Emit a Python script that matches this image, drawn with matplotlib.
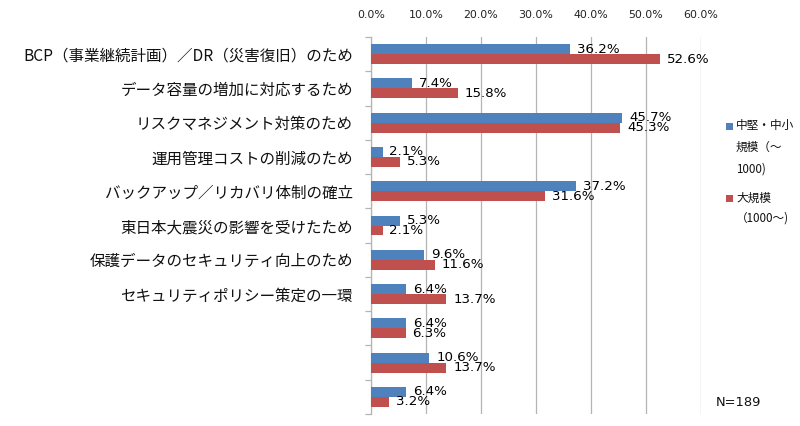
import matplotlib.pyplot as plt
from matplotlib.patches import Rectangle
import numpy as np

plt.rcParams['font.family'] = ['Noto Sans CJK JP', 'DejaVu Sans']

# ----- data -----
categories = [
    'BCP（事業継続計画）／DR（災害復旧）のため',
    'データ容量の増加に対応するため',
    'リスクマネジメント対策のため',
    '運用管理コストの削減のため',
    'バックアップ／リカバリ体制の確立',
    '東日本大震災の影響を受けたため',
    '保護データのセキュリティ向上のため',
    'セキュリティポリシー策定の一環',
    '',
    '',
    '',
]
mid_small = [36.2, 7.4, 45.7, 2.1, 37.2, 5.3, 9.6, 6.4, 6.4, 10.6, 6.4]
large = [52.6, 15.8, 45.3, 5.3, 31.6, 2.1, 11.6, 13.7, 6.3, 13.7, 3.2]
x_ticks = [0, 10, 20, 30, 40, 50, 60]
legend_lines = [
    ['中堅・中小', '規模（～', '1000)'],
    ['大規模', '（1000～)'],
]
note = 'N=189'

BLUE = '#4F81BD'
RED = '#C0504D'
GRID = '#B4B4B4'
W, H = 800, 426


def fx(px):
    return px / W


def fy(py):
    return 1 - py / H


fig = plt.figure(figsize=(8.0, 4.26), dpi=100, facecolor='white')
ax = fig.add_axes([fx(371), fy(414), fx(701) - fx(371), fy(37) - fy(414)])

n = len(categories)
y = np.arange(n)
bh = 0.29
b1 = ax.barh(y - bh / 2, mid_small, height=bh, color=BLUE, zorder=3)
b2 = ax.barh(y + bh / 2, large, height=bh, color=RED, zorder=3)

for bars, vals in ((b1, mid_small), (b2, large)):
    ax.bar_label(bars, labels=[f'{v:.1f}%' for v in vals], padding=5,
                 fontsize=9.6, family='DejaVu Sans', color='#000000')

ax.set_xlim(0, 60)
ax.set_ylim(n - 0.5, -0.5)

# x axis on top
ax.xaxis.tick_top()
ax.set_xticks(x_ticks)
ax.set_xticklabels([f'{t:.1f}%' for t in x_ticks], family='DejaVu Sans',
                   fontsize=7.9, color='#222222')
ax.tick_params(axis='x', length=0, pad=12)
ax.grid(axis='x', color=GRID, linewidth=0.9, zorder=0)

# y axis: labels at centers, ticks at boundaries
ax.set_yticks(y)
ax.set_yticklabels(categories, fontsize=11.2, color='#111111')
ax.tick_params(axis='y', which='major', length=0, pad=13)
ax.set_yticks(np.arange(n + 1) - 0.5, minor=True)
ax.tick_params(axis='y', which='minor', length=4, color=GRID, width=0.9)

for s in ('top', 'right', 'bottom'):
    ax.spines[s].set_visible(False)
ax.spines['left'].set_color(GRID)
ax.spines['left'].set_linewidth(0.9)

# legend drawn by hand (Excel-style wrapped entries)
legend_rows = [(126, 21.5), (198, 20.5)]
for color, lines, (py0, step) in zip((BLUE, RED), legend_lines, legend_rows):
    fig.patches.append(Rectangle((fx(726), fy(py0 + 3.5)), fx(7), 7 / H,
                                 transform=fig.transFigure,
                                 facecolor=color, edgecolor='none'))
    for k, line in enumerate(lines):
        fig.text(fx(736), fy(py0 + k * step), line, fontsize=8.4,
                 va='center', ha='left', color='#111111')

fig.text(fx(716), fy(403), note, fontsize=9.4, family='DejaVu Sans',
         va='center', ha='left', color='#111111')

fig.savefig('out.png', dpi=100, facecolor='white')
